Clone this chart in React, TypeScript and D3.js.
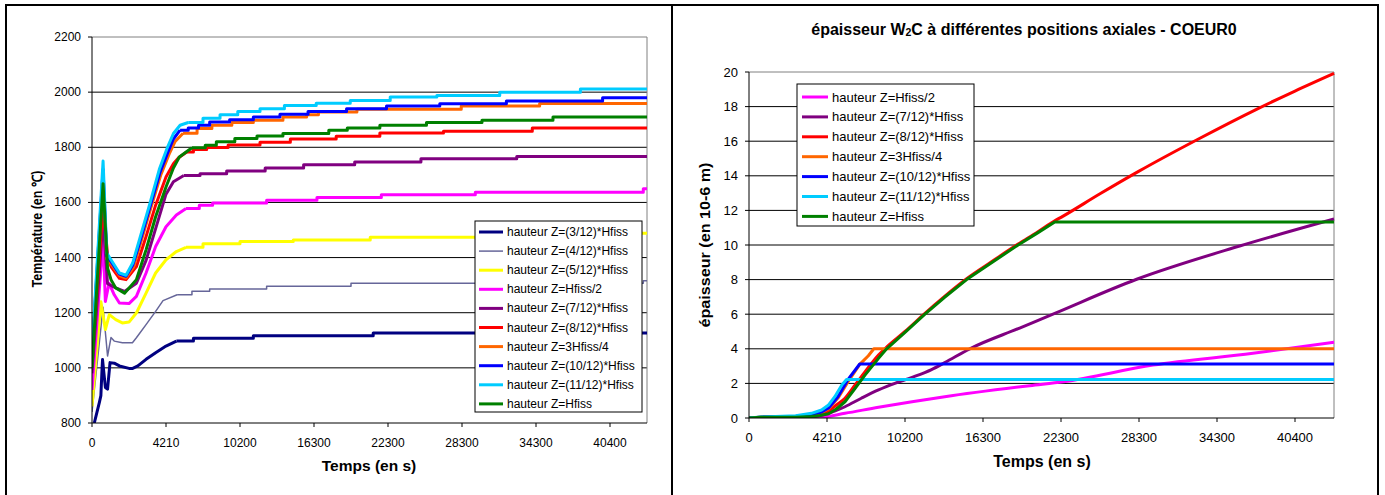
import React from "react";
import * as d3 from "d3";

type P = [number, number];

// ---------- shared axis data ----------
const TIME_TICKS = [0, 4210, 10200, 16300, 22300, 28300, 34300, 40400];
const TIME_END = 43450;
const TEMP_TICKS = [800, 1000, 1200, 1400, 1600, 1800, 2000, 2200];
const EP_TICKS = [0, 2, 4, 6, 8, 10, 12, 14, 16, 18, 20];

// ---------- left chart: temperature (time s, °C) ----------
// "rise" = transient part, "steps" = stepped plateau part
const T3_RISE: P[] = [[130, 800], [420, 875], [505, 899], [570, 995], [600, 1030], [760, 929], [885, 923], [1025, 1019], [1265, 1017], [1560, 1007], [2105, 998], [2315, 998], [2610, 1007], [3075, 1031], [3620, 1055], [4210, 1079], [5050, 1097]];
const T3_STEPS: P[] = [[5050, 1097], [6430, 1107], [11300, 1116], [21100, 1126], [43450, 1126]];

const T4_RISE: P[] = [[0, 840], [630, 1220], [885, 1043], [1080, 1110], [1265, 1097], [1725, 1091], [2300, 1091], [2525, 1109], [3075, 1157], [3620, 1205], [4040, 1244], [5110, 1265]];
const T4_STEPS: P[] = [[5110, 1265], [6310, 1278], [7745, 1286], [12395, 1296], [19300, 1307], [43145, 1316], [43450, 1316]];

const T5_RISE: P[] = [[0, 860], [505, 1240], [760, 1139], [985, 1193], [1350, 1175], [1725, 1163], [2105, 1166], [2525, 1199], [3075, 1271], [3620, 1344], [4210, 1392], [5050, 1422], [5830, 1437]];
const T5_STEPS: P[] = [[5830, 1437], [7205, 1450], [10200, 1458], [14590, 1464], [20860, 1474], [31300, 1480], [42840, 1488], [43450, 1488]];

const T6_RISE: P[] = [[0, 920], [630, 1470], [760, 1241], [970, 1307], [1265, 1265], [1560, 1235], [2105, 1233], [2525, 1259], [3075, 1344], [3620, 1440], [4210, 1512], [5050, 1554], [5830, 1578]];
const T6_STEPS: P[] = [[5830, 1578], [6905, 1590], [7985, 1598], [12395, 1608], [16540, 1618], [21760, 1628], [29380, 1637], [43145, 1650], [43450, 1650]];

const T7_RISE: P[] = [[0, 980], [630, 1540], [885, 1305], [1350, 1290], [1850, 1277], [2525, 1307], [3075, 1390], [3620, 1505], [4210, 1630], [4810, 1675], [5650, 1698]];
const T7_STEPS: P[] = [[5650, 1698], [6965, 1704], [9120, 1714], [12275, 1725], [15445, 1737], [19600, 1747], [24970, 1758], [32740, 1767], [43450, 1767]];

const T8_RISE: P[] = [[0, 1020], [630, 1590], [885, 1410], [1080, 1367], [1560, 1325], [1935, 1320], [2525, 1367], [3075, 1476], [3620, 1590], [4210, 1692], [4810, 1740], [5230, 1762], [5890, 1783]];
const T8_STEPS: P[] = [[5890, 1783], [6430, 1792], [7505, 1799], [9240, 1808], [11850, 1818], [14350, 1830], [18100, 1840], [21640, 1852], [26800, 1858], [34000, 1870], [43450, 1870]];

const T9_RISE: P[] = [[0, 1040], [630, 1700], [840, 1395], [1080, 1378], [1560, 1335], [1935, 1326], [2360, 1365], [2780, 1455], [3325, 1575], [3915, 1700], [4510, 1780], [4930, 1820], [5590, 1851]];
const T9_STEPS: P[] = [[5590, 1851], [6725, 1868], [7925, 1880], [9540, 1890], [11300, 1898], [13740, 1910], [15690, 1918], [16660, 1928], [19780, 1938], [28240, 1950], [34600, 1959], [43450, 1959]];

const T10_RISE: P[] = [[0, 1050], [630, 1720], [840, 1405], [1080, 1385], [1560, 1340], [1935, 1332], [2315, 1372], [2735, 1460], [3285, 1580], [3875, 1710], [4390, 1785], [4810, 1830], [5350, 1862]];
const T10_STEPS: P[] = [[5350, 1862], [6010, 1870], [6845, 1880], [7745, 1892], [9360, 1900], [11300, 1910], [13495, 1920], [15810, 1930], [18940, 1940], [22180, 1950], [26500, 1958], [31900, 1968], [39790, 1980], [43450, 1980]];

const T11_RISE: P[] = [[0, 1060], [630, 1750], [840, 1416], [1080, 1392], [1560, 1344], [1935, 1336], [2315, 1380], [2695, 1464], [3240, 1584], [3830, 1720], [4330, 1800], [4810, 1850], [5350, 1880], [6010, 1890]];
const T11_STEPS: P[] = [[6010, 1890], [7205, 1905], [8585, 1918], [10020, 1930], [11850, 1940], [13860, 1952], [16480, 1960], [19240, 1970], [22480, 1982], [26260, 1988], [31360, 2000], [37960, 2011], [43450, 2011]];

const T12_RISE: P[] = [[0, 1000], [630, 1668], [885, 1362], [1080, 1320], [1350, 1290], [1850, 1271], [2525, 1320], [3075, 1428], [3620, 1548], [4210, 1656], [4810, 1725], [5290, 1765], [6310, 1798]];
const T12_STEPS: P[] = [[6310, 1798], [7385, 1807], [8285, 1820], [9780, 1832], [11600, 1841], [13740, 1850], [17500, 1862], [19000, 1870], [21640, 1880], [25420, 1890], [29920, 1898], [35700, 1910], [43450, 1910]];

const LEFT_NAMES = [
  "hauteur Z=(3/12)*Hfiss", "hauteur Z=(4/12)*Hfiss", "hauteur Z=(5/12)*Hfiss", "hauteur Z=Hfiss/2",
  "hauteur Z=(7/12)*Hfiss", "hauteur Z=(8/12)*Hfiss", "hauteur Z=3Hfiss/4", "hauteur Z=(10/12)*Hfiss",
  "hauteur Z=(11/12)*Hfiss", "hauteur Z=Hfiss",
];
const LEFT_COLORS = ["#000080", "#666699", "#FFFF00", "#FF00FF", "#800080", "#FF0000", "#FF6600", "#0000FF", "#00CCFF", "#008000"];
const LEFT_WIDTHS = [3, 1.5, 3, 3, 3, 3, 3, 3, 3, 3];
const LEFT_RISE = [T3_RISE, T4_RISE, T5_RISE, T6_RISE, T7_RISE, T8_RISE, T9_RISE, T10_RISE, T11_RISE, T12_RISE];
const LEFT_STEPS = [T3_STEPS, T4_STEPS, T5_STEPS, T6_STEPS, T7_STEPS, T8_STEPS, T9_STEPS, T10_STEPS, T11_STEPS, T12_STEPS];

// ---------- right chart: W2C thickness (time s, 1e-6 m) ----------
const E6: P[] = [[0, 0], [630, 0.02], [2525, 0.03], [3915, 0.05], [5590, 0.27], [8165, 0.62], [10750, 0.94], [13310, 1.23], [19900, 1.87], [22480, 2.1], [29380, 3.06], [37110, 3.74], [43450, 4.38]];
const E7: P[] = [[0, 0], [630, 0.03], [2525, 0.04], [3370, 0.06], [4330, 0.27], [5590, 0.65], [6845, 1.14], [8165, 1.62], [9420, 2.0], [10750, 2.35], [12275, 2.8], [13310, 3.2], [15265, 4.0], [19120, 5.2], [21820, 6.05], [28120, 8.02], [36070, 9.94], [43450, 11.5]];
const E8: P[] = [[0, 0], [630, 0.05], [2525, 0.07], [3370, 0.13], [3830, 0.25], [4330, 0.42], [4930, 0.75], [5590, 1.14], [6370, 1.91], [7140, 2.68], [8165, 3.64], [8790, 4.1], [10200, 5.0], [11760, 6.05], [13250, 7.0], [15020, 8.05], [16900, 9.0], [19000, 10.05], [20500, 10.75], [21820, 11.4], [22300, 11.6], [25300, 12.96], [28300, 14.27], [32800, 16.1], [37350, 17.83], [40400, 18.9], [43450, 19.92]];
const E9: P[] = [[0, 0], [630, 0.05], [2525, 0.09], [3370, 0.18], [3915, 0.33], [4330, 0.52], [5050, 1.15], [5830, 2.1], [6725, 3.1], [7385, 3.6], [7805, 4.0], [43450, 4.0]];
const E10: P[] = [[0, 0], [630, 0.05], [2525, 0.1], [3370, 0.2], [3915, 0.35], [4330, 0.58], [5050, 1.23], [5830, 2.23], [6725, 3.12], [43450, 3.12]];
const E11: P[] = [[0, 0], [630, 0.06], [2525, 0.13], [3370, 0.27], [3915, 0.46], [4330, 0.75], [4810, 1.23], [5350, 1.91], [5710, 2.22], [43450, 2.22]];
const E12: P[] = [[0, 0], [630, 0.04], [2525, 0.05], [3370, 0.09], [3830, 0.15], [4330, 0.24], [4930, 0.52], [5590, 0.94], [6370, 1.72], [7140, 2.49], [8165, 3.45], [8790, 4.0], [10200, 4.95], [11760, 6.0], [13250, 6.95], [15020, 8.0], [16900, 8.95], [19000, 10.0], [20500, 10.7], [21820, 11.33], [43450, 11.33]];

const RIGHT_NAMES = [
  "hauteur Z=Hfiss/2", "hauteur Z=(7/12)*Hfiss", "hauteur Z=(8/12)*Hfiss", "hauteur Z=3Hfiss/4",
  "hauteur Z=(10/12)*Hfiss", "hauteur Z=(11/12)*Hfiss", "hauteur Z=Hfiss",
];
const RIGHT_COLORS = ["#FF00FF", "#800080", "#FF0000", "#FF6600", "#0000FF", "#00CCFF", "#008000"];
const RIGHT_DATA = [E6, E7, E8, E9, E10, E11, E12];
const RIGHT_SMOOTH = [true, true, true, false, false, false, false];

const FONT = "'Liberation Sans', Arial, Helvetica, sans-serif";

function timeScale(x0: number, x1: number) {
  const step = (x1 - x0) / 7.5;
  return d3
    .scaleLinear()
    .domain([...TIME_TICKS, TIME_END])
    .range([...TIME_TICKS.map((_, i) => x0 + i * step), x1]);
}

function LeftChart() {
  const L = 92, R = 647, T = 37, B = 423;
  const x = timeScale(L, R);
  const y = d3.scaleLinear().domain([800, 2200]).range([B, T]);
  const lin = d3.line<P>().x((d) => x(d[0])).y((d) => y(d[1]));
  const stp = d3.line<P>().x((d) => x(d[0])).y((d) => y(d[1])).curve(d3.curveStepAfter);
  const lgX = 475, lgY = 221, lgW = 167, lgH = 191, lgStep = 19.1;
  return (
    <g fontFamily={FONT}>
      <defs>
        <clipPath id="clipL"><rect x={L} y={T} width={R - L} height={B - T} /></clipPath>
      </defs>
      {TEMP_TICKS.slice(1).map((t) => (
        <line key={t} x1={L} x2={R} y1={y(t)} y2={y(t)} stroke={t === 2200 ? "#808080" : "#000"} strokeWidth={1} />
      ))}
      <line x1={R} x2={R} y1={T} y2={B} stroke="#808080" />
      <g clipPath="url(#clipL)">
        {LEFT_RISE.map((r, i) => (
          <g key={i} fill="none" stroke={LEFT_COLORS[i]} strokeWidth={LEFT_WIDTHS[i]} strokeLinejoin="round">
            <path d={lin(r) || ""} />
            <path d={stp(LEFT_STEPS[i]) || ""} />
          </g>
        ))}
      </g>
      <line x1={L} x2={L} y1={T} y2={B} stroke="#000" />
      <line x1={L} x2={R} y1={B} y2={B} stroke="#000" />
      {TEMP_TICKS.map((t) => (
        <g key={t}>
          <line x1={L - 4} x2={L} y1={y(t)} y2={y(t)} stroke="#000" />
          <text x={L - 11} y={y(t) + 4} textAnchor="end" fontSize={12}>{t}</text>
        </g>
      ))}
      {TIME_TICKS.map((t) => (
        <g key={t}>
          <line x1={x(t)} x2={x(t)} y1={B} y2={B + 4} stroke="#000" />
          <text x={x(t)} y={447} textAnchor="middle" fontSize={12}>{t}</text>
        </g>
      ))}
      <text x={369} y={471} textAnchor="middle" fontSize={15.5} fontWeight="bold">Temps (en s)</text>
      <text transform="translate(42,229) rotate(-90)" textAnchor="middle" fontSize={14} fontWeight="bold"
        textLength={117} lengthAdjust="spacingAndGlyphs">Température (en ℃)</text>
      <rect x={lgX} y={lgY} width={lgW} height={lgH} fill="#fff" stroke="#000" strokeWidth={1} />
      {LEFT_NAMES.map((n, i) => {
        const cy = lgY + 11 + i * lgStep;
        return (
          <g key={n}>
            <line x1={lgX + 4} x2={lgX + 28} y1={cy} y2={cy} stroke={LEFT_COLORS[i]} strokeWidth={LEFT_WIDTHS[i]} />
            <text x={lgX + 32} y={cy + 4} fontSize={12}>{n}</text>
          </g>
        );
      })}
    </g>
  );
}

function RightChart() {
  const L = 749, R = 1334, T = 72, B = 418;
  const x = timeScale(L, R);
  const y = d3.scaleLinear().domain([0, 20]).range([B, T]);
  const lin = d3.line<P>().x((d) => x(d[0])).y((d) => y(d[1]));
  const smooth = d3.line<P>().x((d) => x(d[0])).y((d) => y(d[1])).curve(d3.curveMonotoneX);
  const lgX = 797, lgY = 84, lgW = 177, lgH = 142, lgStep = 19.9;
  return (
    <g fontFamily={FONT}>
      <defs>
        <clipPath id="clipR"><rect x={L} y={T - 2} width={R - L + 2} height={B - T + 2} /></clipPath>
      </defs>
      {EP_TICKS.slice(1).map((t) => (
        <line key={t} x1={L} x2={R} y1={y(t)} y2={y(t)} stroke={t === 20 ? "#808080" : "#000"} strokeWidth={1} />
      ))}
      <line x1={R} x2={R} y1={T} y2={B} stroke="#808080" />
      <g clipPath="url(#clipR)">
        {RIGHT_DATA.map((r, i) => (
          <path key={i} d={(RIGHT_SMOOTH[i] ? smooth(r) : lin(r)) || ""} fill="none" stroke={RIGHT_COLORS[i]} strokeWidth={3} strokeLinejoin="round" />
        ))}
      </g>
      <line x1={L} x2={L} y1={T} y2={B} stroke="#000" />
      <line x1={L} x2={R} y1={B} y2={B} stroke="#000" />
      {EP_TICKS.map((t) => (
        <g key={t}>
          <line x1={L - 4} x2={L} y1={y(t)} y2={y(t)} stroke="#000" />
          <text x={L - 11} y={y(t) + 4.5} textAnchor="end" fontSize={13}>{t}</text>
        </g>
      ))}
      {TIME_TICKS.map((t) => (
        <g key={t}>
          <line x1={x(t)} x2={x(t)} y1={B} y2={B + 4} stroke="#000" />
          <text x={x(t)} y={442} textAnchor="middle" fontSize={13}>{t}</text>
        </g>
      ))}
      <text x={1042} y={467} textAnchor="middle" fontSize={16} fontWeight="bold">Temps (en s)</text>
      <text transform="translate(710,245) rotate(-90)" textAnchor="middle" fontSize={15} fontWeight="bold"
        textLength={165} lengthAdjust="spacingAndGlyphs">épaisseur (en 10-6 m)</text>
      <text x={1024} y={35} textAnchor="middle" fontSize={16} fontWeight="bold">
        épaisseur W<tspan fontSize={10.5} dy={1}>2</tspan><tspan dy={-1}>C à différentes positions axiales - COEUR0</tspan>
      </text>
      <rect x={lgX} y={lgY} width={lgW} height={lgH} fill="#fff" stroke="#000" strokeWidth={1} />
      {RIGHT_NAMES.map((n, i) => {
        const cy = lgY + 13 + i * lgStep;
        return (
          <g key={n}>
            <line x1={lgX + 5} x2={lgX + 31} y1={cy} y2={cy} stroke={RIGHT_COLORS[i]} strokeWidth={3} />
            <text x={lgX + 35} y={cy + 4.5} fontSize={13}>{n}</text>
          </g>
        );
      })}
    </g>
  );
}

export default function App() {
  return (
    <svg width={1385} height={495} style={{ position: "absolute", left: 0, top: 0, background: "#fff" }}>
      <rect x={0} y={0} width={1385} height={495} fill="#fff" />
      <rect x={6} y={5} width={666} height={520} fill="none" stroke="#000" strokeWidth={2} />
      <rect x={672} y={5} width={706} height={520} fill="none" stroke="#000" strokeWidth={2} />
      <LeftChart />
      <RightChart />
    </svg>
  );
}
